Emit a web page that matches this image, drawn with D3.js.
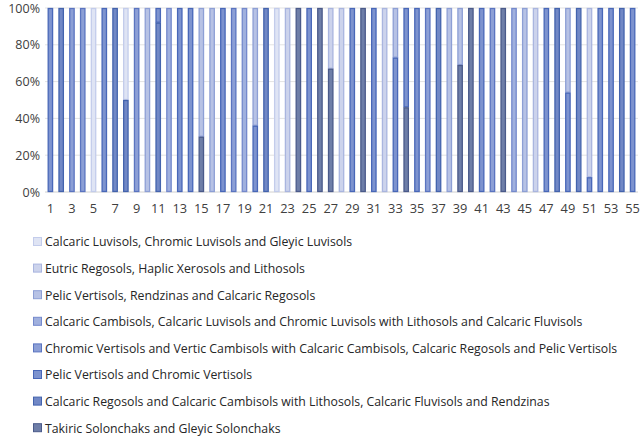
<!DOCTYPE html>
<html>
<head>
<meta charset="utf-8">
<script src="https://cdn.jsdelivr.net/npm/d3@7"></script>
<style>
  body { margin: 0; background: #fff; }
  text { font-family: "Open Sans", "Noto Sans", sans-serif; fill: #404040; }
</style>
</head>
<body>
<div id="chart"></div>
<script>
// categories 1..55
var categories = d3.range(1, 56);

var seriesNames = [
  "Calcaric Luvisols, Chromic Luvisols and Gleyic Luvisols",
  "Eutric Regosols, Haplic Xerosols and Lithosols",
  "Pelic Vertisols, Rendzinas and Calcaric Regosols",
  "Calcaric Cambisols, Calcaric Luvisols and Chromic Luvisols with Lithosols and Calcaric Fluvisols",
  "Chromic Vertisols and Vertic Cambisols with Calcaric Cambisols, Calcaric Regosols and Pelic Vertisols",
  "Pelic Vertisols and Chromic Vertisols",
  "Calcaric Regosols and Calcaric Cambisols with Lithosols, Calcaric Fluvisols and Rendzinas",
  "Takiric Solonchaks and Gleyic Solonchaks"
];

// share (%) of each soil group per category
var s0 = [0,0,0,0,100,0,0,50,0,0, 0,0,0,0,0,0,0,0,0,0, 0,100,0,0,0,0,0,0,0,0, 0,0,0,0,0,0,0,0,0,0, 0,0,0,0,0,0,0,0,0,0, 0,0,0,0,0];
var s1 = [0,0,0,0,0,0,0,0,0,0, 0,0,0,0,0,0,0,0,0,0, 0,0,100,0,0,0,33,100,0,0, 0,100,0,0,0,0,0,0,0,0, 0,0,0,0,0,100,0,0,0,0, 92,0,0,0,0];
var s2 = [0,0,0,0,0,0,0,0,0,100, 0,0,0,0,70,100,0,0,0,64, 0,0,0,0,0,0,0,0,0,0, 0,0,27,0,0,0,0,100,31,0, 0,0,0,0,100,0,0,0,46,0, 0,0,0,0,0];
var s3 = [0,0,0,0,0,0,0,0,0,0, 0,100,0,0,0,0,0,0,100,0, 0,0,0,0,0,0,0,0,0,0, 0,0,0,0,0,0,0,0,0,0, 0,0,0,100,0,0,0,0,0,0, 0,0,0,0,0];
var s4 = [0,0,100,100,0,0,0,0,100,0, 0,0,0,0,0,0,0,100,0,0, 0,0,0,0,0,0,0,0,0,0, 0,0,0,0,0,100,0,0,0,0, 0,100,0,0,0,0,0,0,0,0, 0,0,0,0,0];
var s5 = [100,0,0,0,0,100,0,0,0,0, 8,0,100,100,0,0,100,0,0,36, 0,0,0,0,100,0,0,0,100,0, 100,0,73,54,100,0,0,0,0,0, 100,0,0,0,0,0,100,0,54,0, 8,100,100,0,100];
var s6 = [0,100,0,0,0,0,100,50,0,0, 92,0,0,0,0,0,0,0,0,0, 100,0,0,0,0,0,0,0,0,0, 0,0,0,0,0,0,100,0,0,0, 0,0,0,0,0,0,0,100,0,100, 0,0,0,100,0];
var s7 = [0,0,0,0,0,0,0,0,0,0, 0,0,0,0,30,0,0,0,0,0, 0,0,0,100,0,100,67,0,0,100, 0,0,0,46,0,0,0,0,69,100, 0,0,100,0,0,0,0,0,0,0, 0,0,0,0,0];

var yTicks = [0, 20, 40, 60, 80, 100];

var fills   = ["#dfe4f4", "#ccd3ec", "#b7c2e5", "#a0b0de", "#8c9fd6", "#7d93cf", "#7188c6", "#6e7ea8"];
var strokes = ["#c3cceb", "#a9b5df", "#8d9fd5", "#7489cc", "#5a74c0", "#4867b8", "#4363ad", "#4a5a8a"];

var allSeries = [s0, s1, s2, s3, s4, s5, s6, s7];
var keys = allSeries.map(function(s, k) { return "s" + k; });

// table for d3.stack
var table = categories.map(function(c, i) {
  var row = {cat: c};
  allSeries.forEach(function(s, k) { row[keys[k]] = s[i]; });
  return row;
});

var width = 644, height = 438;
var margin = {top: 8, right: 6, bottom: 246, left: 45};

var svg = d3.select("#chart").append("svg")
  .attr("width", width)
  .attr("height", height);

var x = d3.scaleBand()
  .domain(categories)
  .range([margin.left, width - margin.right])
  .paddingInner(0.5)
  .paddingOuter(0.25);

var y = d3.scaleLinear()
  .domain([0, 100])
  .range([height - margin.bottom, margin.top]);

// gridlines
svg.append("g")
  .selectAll("line")
  .data(yTicks)
  .enter().append("line")
  .attr("x1", margin.left)
  .attr("x2", width - margin.right)
  .attr("y1", function(d) { return y(d); })
  .attr("y2", function(d) { return y(d); })
  .attr("stroke", function(d) { return d === 0 ? "#d0d0d0" : "#e3e3e3"; })
  .attr("stroke-width", 1);

// y axis labels
var yAxis = d3.axisLeft(y)
  .tickValues(yTicks)
  .tickSize(0)
  .tickPadding(5)
  .tickFormat(function(d) { return d + "%"; });

svg.append("g")
  .attr("transform", "translate(" + margin.left + ",0)")
  .call(yAxis)
  .call(function(g) { g.select(".domain").remove(); })
  .selectAll("text")
  .style("font-size", "12.5px")
  .style("fill", "#404040");

// x axis labels (odd categories only)
var xAxis = d3.axisBottom(x)
  .tickSize(0)
  .tickPadding(12)
  .tickFormat(function(d) { return d % 2 === 1 ? d : ""; });

svg.append("g")
  .attr("transform", "translate(0," + y(0) + ")")
  .call(xAxis)
  .call(function(g) { g.select(".domain").remove(); })
  .selectAll("text")
  .style("font-size", "12.8px")
  .style("fill", "#404040");

// stacked bars (darkest group at the bottom)
var stack = d3.stack().keys(keys).order(d3.stackOrderReverse);
var stacked = stack(table);

svg.append("g")
  .selectAll("g")
  .data(stacked)
  .enter().append("g")
  .attr("fill", function(d) { return fills[keys.indexOf(d.key)]; })
  .attr("stroke", function(d) { return strokes[keys.indexOf(d.key)]; })
  .selectAll("rect")
  .data(function(d) { return d.filter(function(p) { return p[1] - p[0] > 0; }); })
  .enter().append("rect")
  .attr("x", function(d) { return x(d.data.cat) + 0.5; })
  .attr("width", x.bandwidth() - 1)
  .attr("y", function(d) { return y(d[1]) + 0.5; })
  .attr("height", function(d) { return Math.max(0, y(d[0]) - y(d[1]) - 1); })
  .attr("stroke-width", 1.3);

// legend
var legend = svg.append("g")
  .selectAll("g")
  .data(seriesNames)
  .enter().append("g")
  .attr("transform", function(d, i) { return "translate(33," + (242 + i * 26.6) + ")"; });

legend.append("rect")
  .attr("x", 0.5)
  .attr("y", -4.5)
  .attr("width", 8)
  .attr("height", 8)
  .attr("fill", function(d, i) { return fills[i]; })
  .attr("stroke", function(d, i) { return strokes[i]; });

legend.append("text")
  .attr("x", 12)
  .attr("y", 0)
  .attr("dy", "0.35em")
  .style("font-size", "12.3px")
  .style("fill", "#262626")
  .text(function(d) { return d; });
</script>
</body>
</html>
